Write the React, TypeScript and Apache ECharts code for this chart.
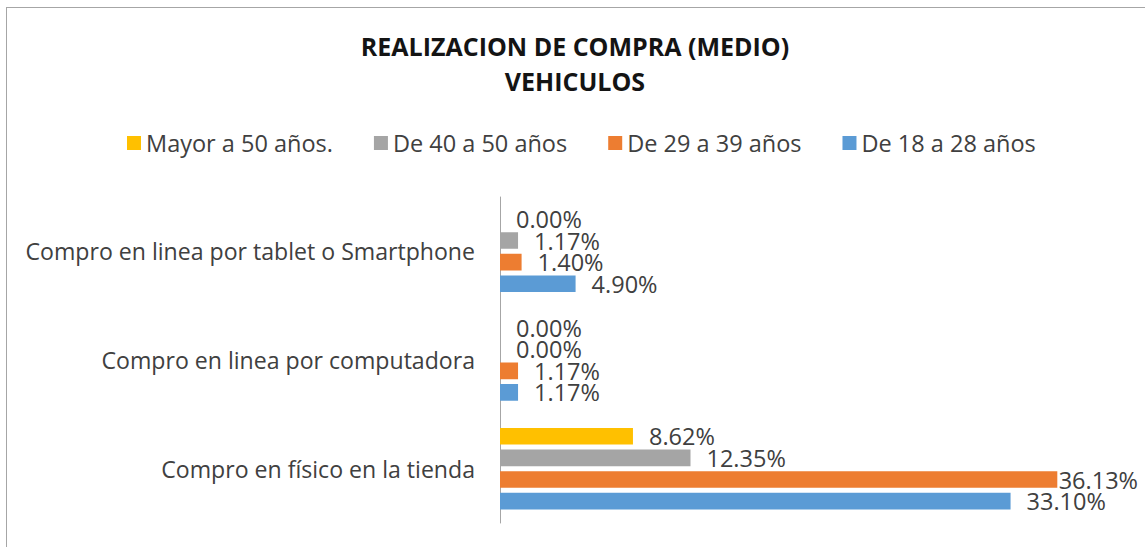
import React, { useEffect, useRef } from "react";
import * as echarts from "echarts";

const categories = [
  "Compro en físico en la tienda",
  "Compro en linea por computadora",
  "Compro en linea por tablet o Smartphone",
];
const seriesNames = ["Mayor a 50 años.", "De 40 a 50 años", "De 29 a 39 años", "De 18 a 28 años"];
const colors = ["#FFC000", "#A5A5A5", "#ED7D31", "#5B9BD5"];
const valuesOver50 = [8.62, 0.0, 0.0];
const values40to50 = [12.35, 0.0, 1.17];
const values29to39 = [36.13, 1.17, 1.4];
const values18to28 = [33.1, 1.17, 4.9];
const seriesValues = [valuesOver50, values40to50, values29to39, values18to28];

const FONT = "'Open Sans', Lato, sans-serif";
const CHART_W = 1145;

export default function App() {
  const ref = useRef<HTMLDivElement>(null);
  useEffect(() => {
    if (!ref.current) return;
    const chart = echarts.init(ref.current, null, { renderer: "svg" });
    chart.setOption({
      animation: false,
      backgroundColor: "transparent",
      title: {
        text: "REALIZACION DE COMPRA (MEDIO)\nVEHICULOS",
        left: 570,
        textAlign: "center",
        top: 23,
        textStyle: {
          fontFamily: FONT,
          fontWeight: "bold",
          fontSize: 25,
          lineHeight: 35,
          color: "#141414",
        },
      },
      legend: {
        data: seriesNames,
        top: 126,
        left: 122,
        itemWidth: 14,
        itemHeight: 14,
        itemGap: 41,
        icon: "rect",
        textStyle: { fontFamily: FONT, fontSize: 23.5, color: "#404040" },
      },
      grid: { left: 500, right: 28, top: 197, bottom: 24, containLabel: false },
      xAxis: {
        type: "value",
        min: 0,
        max: 40,
        show: false,
      },
      yAxis: {
        type: "category",
        data: categories,
        axisLine: { show: true, lineStyle: { color: "#a6a6a6", width: 1 } },
        axisTick: { show: false },
        axisLabel: {
          margin: 25,
          fontFamily: FONT,
          fontSize: 23.1,
          color: "#404040",
        },
      },
      labelLayout: (p: any) => {
        const r = p.labelRect;
        if (r && r.x + r.width > CHART_W - 7) {
          return {
            x: CHART_W - 7 - r.width,
            y: r.y + r.height / 2,
            align: "left",
            verticalAlign: "middle",
          };
        }
        return {};
      },
      series: seriesNames.map((name, i) => ({
        name,
        type: "bar",
        data: seriesValues[i],
        barGap: "30%",
        barCategoryGap: "25%",
        itemStyle: { color: colors[i] },
        label: {
          show: true,
          position: "right",
          distance: 16,
          offset: [0, 1],
          fontFamily: FONT,
          fontSize: 23.5,
          color: "#404040",
          formatter: (p: any) => Number(p.value).toFixed(2) + "%",
        },
      })),
    });
    return () => chart.dispose();
  }, []);
  return (
    <div style={{ position: "absolute", left: 0, top: 0, width: 1145, height: 547, overflow: "hidden", background: "#fff" }}>
      <div
        style={{
          position: "absolute",
          left: 6,
          top: 7,
          width: 1300,
          height: 700,
          border: "1px solid #a6a6a6",
        }}
      />
      <div ref={ref} style={{ position: "absolute", left: 0, top: 0, width: 1145, height: 547 }} />
    </div>
  );
}
